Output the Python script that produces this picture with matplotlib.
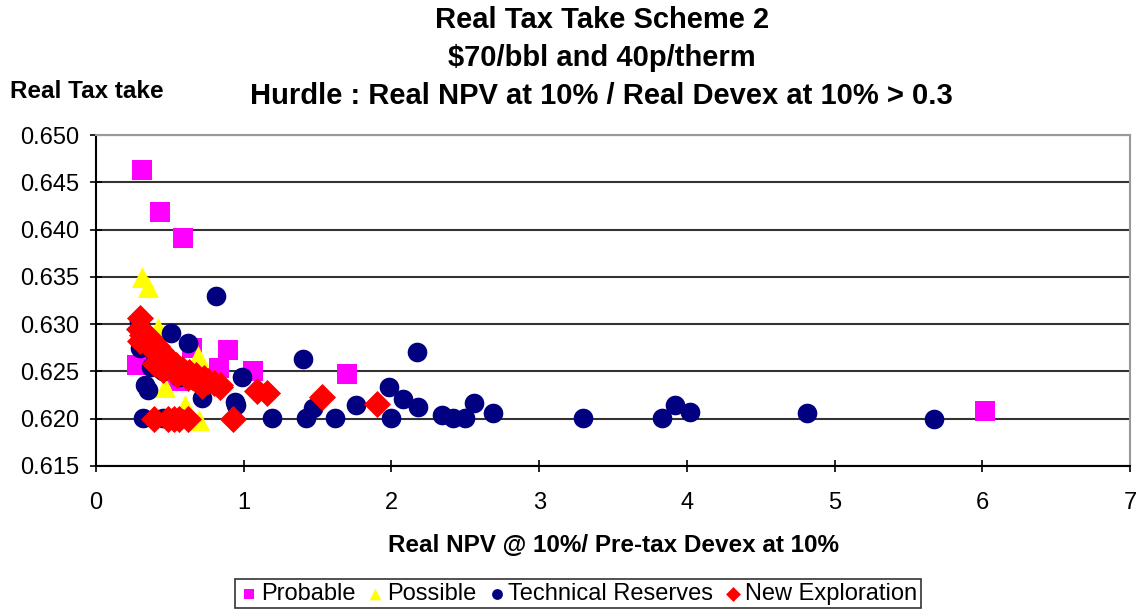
import matplotlib.pyplot as plt

plt.rcParams['font.family'] = ['Liberation Sans', 'DejaVu Sans']

# Probable (magenta squares)
prob_x = [0.31, 0.43, 0.59, 0.89, 1.06, 1.70, 6.02, 0.28, 0.83, 0.65, 0.55, 0.52]
prob_y = [0.6463, 0.6419, 0.6391, 0.6273, 0.6250, 0.6247, 0.6208, 0.6257, 0.6254, 0.6275, 0.6240, 0.6246]

# Possible (yellow triangles)
poss_x = [0.31, 0.35, 0.42, 0.69, 0.47, 0.60, 0.70]
poss_y = [0.6350, 0.6339, 0.6296, 0.6266, 0.6233, 0.6215, 0.6199]

# Technical Reserves (navy circles)
tech_x = [0.81, 0.29, 0.51, 0.62, 0.37, 0.45, 0.56, 0.33, 0.35, 0.72, 0.94, 0.95, 0.99,
          0.32, 0.45, 0.56, 1.19, 1.40, 2.17, 1.47, 1.42, 1.62, 1.76, 1.98, 2.08, 2.18,
          2.00, 2.34, 2.42, 2.50, 2.56, 2.69, 3.30, 3.83, 3.92, 4.02, 4.81, 5.67,
          0.33, 0.40, 0.48, 0.55, 0.65, 0.30]
tech_y = [0.6330, 0.6302, 0.6291, 0.6280, 0.6255, 0.6250, 0.6244, 0.6236, 0.6230, 0.6222, 0.6218, 0.6214, 0.6244,
          0.6201, 0.6201, 0.6201, 0.6201, 0.6263, 0.6271, 0.6211, 0.6201, 0.6201, 0.6214, 0.6233, 0.6221, 0.6212,
          0.6201, 0.6204, 0.6201, 0.6201, 0.6217, 0.6206, 0.6201, 0.6201, 0.6214, 0.6207, 0.6206, 0.6200,
          0.6285, 0.6268, 0.6258, 0.6250, 0.6243, 0.6275]

# New Exploration (red diamonds)
expl_x = [0.30, 0.29, 0.31, 0.30, 0.33, 0.34, 0.35, 0.36, 0.37, 0.38, 0.40, 0.41, 0.42, 0.44,
          0.45, 0.47, 0.48, 0.50, 0.52, 0.54, 0.56, 0.58, 0.60, 0.63, 0.65, 0.68, 0.70, 0.73,
          0.76, 0.80, 0.84, 0.40, 0.45, 0.55, 0.62, 0.72, 0.84,
          1.09, 1.16, 1.53, 1.90, 0.39, 0.49, 0.53, 0.56, 0.62, 0.93]
expl_y = [0.6306, 0.6295, 0.6288, 0.6282, 0.6290, 0.6284, 0.6279, 0.6286, 0.6275, 0.6281, 0.6272, 0.6277, 0.6268, 0.6272,
          0.6264, 0.6266, 0.6259, 0.6262, 0.6255, 0.6257, 0.6251, 0.6253, 0.6248, 0.6249, 0.6244, 0.6246, 0.6241, 0.6243,
          0.6240, 0.6238, 0.6236, 0.6258, 0.6252, 0.6246, 0.6243, 0.6235, 0.6234,
          0.6229, 0.6227, 0.6223, 0.6216, 0.6200, 0.6200, 0.6200, 0.6200, 0.6200, 0.6200]

fig = plt.figure(figsize=(11.42, 6.12), dpi=100)
ax = fig.add_axes([0.0841, 0.2386, 0.9054, 0.5408])

ax.scatter(prob_x, prob_y, marker='s', s=190, color='#ff00ff', label='Probable', zorder=3, linewidths=0)
ax.scatter(poss_x, poss_y, marker='^', s=230, color='#ffff00', label='Possible', zorder=4, linewidths=0)
ax.scatter(tech_x, tech_y, marker='o', s=200, color='#000080', label='Technical Reserves', zorder=5, linewidths=0)
ax.scatter(expl_x, expl_y, marker='D', s=190, color='#ff0000', label='New Exploration', zorder=6, linewidths=0)

ax.set_xlim(0, 7)
ax.set_ylim(0.615, 0.650)
ax.set_yticks([0.615, 0.620, 0.625, 0.630, 0.635, 0.640, 0.645, 0.650])
ax.set_yticklabels(['%.3f' % v for v in ax.get_yticks()])
ax.set_xticks(range(8))
ax.tick_params(axis='both', labelsize=17, direction='inout', length=8, width=1.2, color='black')
ax.tick_params(axis='y', pad=8)
ax.tick_params(axis='x', pad=15)

ax.yaxis.grid(True, color='#333333', linewidth=1.5)
ax.set_axisbelow(True)
for side in ['top', 'right']:
    ax.spines[side].set_color('#999999')
    ax.spines[side].set_linewidth(1.5)
ax.spines['left'].set_linewidth(1.5)
ax.spines['bottom'].set_linewidth(1.5)

ax.set_xlabel('Real NPV @ 10%/ Pre-tax Devex at 10%', fontsize=17.5, fontweight='bold', labelpad=14)
fig.text(0.009, 0.850, 'Real Tax take', fontsize=17.5, fontweight='bold', va='center')
fig.text(0.527, 0.967, 'Real Tax Take Scheme 2', fontsize=21, fontweight='bold', ha='center', va='center')
fig.text(0.527, 0.905, '$70/bbl and 40p/therm', fontsize=21, fontweight='bold', ha='center', va='center')
fig.text(0.527, 0.843, 'Hurdle : Real NPV at 10% / Real Devex at 10% > 0.3', fontsize=21,
         fontweight='bold', ha='center', va='center')

leg = fig.legend(loc='center', bbox_to_anchor=(0.506, 0.0295), ncol=4, fontsize=17, frameon=True,
                 fancybox=False, edgecolor='black', handletextpad=0.05, columnspacing=0.4,
                 borderpad=0.15, handlelength=0.9, markerscale=0.55)
leg.get_frame().set_linewidth(1.2)

fig.savefig('out.png', dpi=100)
